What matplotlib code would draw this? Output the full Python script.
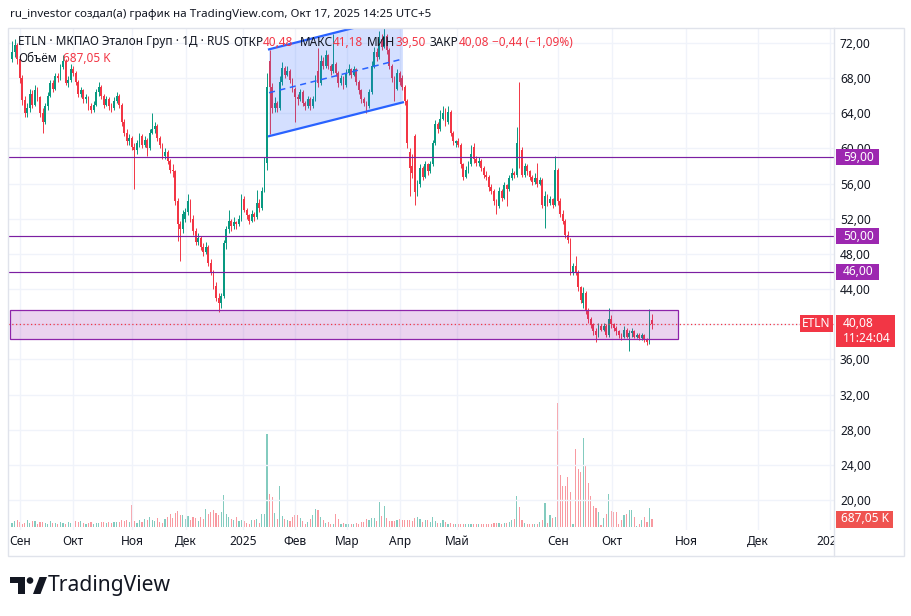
import numpy as np
import matplotlib.pyplot as plt
from matplotlib.patches import Rectangle, Polygon, Circle

plt.rcParams['font.family'] = ['Noto Sans', 'DejaVu Sans']

# ETLN daily candles, Sep 2024 .. Oct 17 2025
opens = [
    70.2, 71.0, 71.8, 70.2, 68.0, 65.5, 64.0, 64.6, 66.2, 65.0, 66.6, 65.8,
    64.0, 63.0, 64.8, 66.0, 67.4, 66.8, 68.2, 68.0, 69.3, 70.0, 67.5, 67.8,
    69.0, 68.6, 67.6, 66.2, 66.6, 65.6, 65.8, 64.8, 64.4, 65.0, 66.4, 67.0,
    66.0, 65.0, 65.6, 64.8, 64.6, 65.4, 66.0, 65.0, 63.0, 61.8, 60.8, 61.2,
    60.2, 59.8, 60.6, 61.4, 60.4, 61.0, 60.0, 61.8, 62.2, 62.6, 61.2, 60.4,
    59.2, 59.6, 58.6, 57.6, 57.4, 54.0, 51.4, 50.8, 52.0, 52.8, 54.0, 52.0,
    50.6, 49.4, 49.8, 48.8, 48.2, 48.8, 47.0, 46.0, 44.4, 43.0, 42.4, 43.2,
    49.2, 50.8, 51.8, 51.2, 51.6, 51.4, 52.0, 54.2, 53.0, 52.4, 51.8, 52.6,
    52.2, 53.8, 53.2, 55.2, 58.4, 70.0, 67.0, 64.6, 65.2, 64.6, 67.6, 69.2,
    68.4, 68.8, 67.8, 66.8, 65.8, 65.6, 66.4, 65.2, 64.8, 65.6, 64.8, 65.6,
    68.8, 67.4, 70.0, 69.4, 70.6, 69.4, 68.8, 69.6, 68.6, 67.4, 68.0, 67.2,
    68.6, 69.0, 68.4, 69.0, 67.6, 66.6, 65.6, 65.2, 64.8, 66.4, 69.4, 71.0,
    70.4, 72.4, 71.6, 72.8, 71.2, 69.4, 68.0, 66.8, 68.6, 68.0, 67.0, 65.4,
    59.6, 58.0, 61.4, 55.0, 56.0, 57.8, 56.8, 58.2, 57.4, 58.2, 60.6, 62.8,
    62.2, 63.4, 64.0, 63.0, 64.2, 61.8, 60.6, 60.8, 60.4, 58.2, 56.8, 57.6,
    58.2, 60.2, 58.8, 58.4, 58.6, 57.8, 57.0, 56.8, 55.6, 55.2, 54.0, 53.4,
    55.2, 54.4, 55.8, 55.4, 56.6, 57.2, 57.0, 61.2, 59.8, 57.0, 58.0, 57.4,
    56.8, 56.2, 56.6, 56.0, 56.4, 53.4, 54.6, 53.8, 54.2, 53.6, 57.6, 54.0,
    52.6, 51.8, 50.2, 49.6, 45.8, 46.6, 46.0, 44.2, 42.4, 43.6, 41.6, 40.6,
    40.0, 39.2, 38.8, 39.8, 39.4, 39.8, 38.8, 40.6, 40.0, 39.6, 39.2, 38.8,
    38.6, 39.4, 38.6, 39.0, 39.2, 38.6, 38.8, 38.4, 38.8, 38.2, 38.0, 40.48,
]
highs = [
    72.2, 72.4, 72.0, 70.6, 68.4, 66.0, 65.2, 66.8, 66.6, 67.2, 67.0, 66.0,
    64.6, 65.2, 66.4, 67.8, 67.8, 68.6, 68.6, 69.6, 70.6, 70.2, 68.2, 69.6,
    69.4, 68.8, 67.8, 67.0, 66.8, 66.2, 66.0, 65.2, 65.4, 66.8, 67.6, 67.2,
    66.2, 66.0, 65.8, 65.2, 65.8, 66.4, 66.2, 65.2, 63.4, 62.2, 61.6, 61.4,
    60.6, 61.0, 61.8, 61.6, 61.4, 61.2, 62.2, 64.0, 63.0, 62.8, 61.4, 60.6,
    60.0, 59.8, 58.8, 58.2, 57.6, 54.4, 51.8, 53.0, 53.2, 54.8, 54.2, 52.4,
    51.0, 50.4, 50.0, 49.2, 49.4, 49.0, 47.4, 46.2, 44.8, 43.6, 43.6, 49.6,
    51.2, 53.0, 52.0, 52.2, 51.8, 52.4, 54.8, 54.6, 53.2, 52.6, 53.0, 52.8,
    55.3, 54.2, 55.6, 59.0, 68.6, 71.2, 67.4, 65.8, 65.4, 68.2, 69.8, 69.4,
    69.4, 69.0, 68.0, 67.0, 66.2, 66.8, 66.6, 65.4, 66.0, 65.8, 66.0, 68.4,
    71.4, 70.6, 70.4, 71.2, 70.8, 69.6, 73.0, 69.8, 68.8, 68.4, 68.2, 69.0,
    69.6, 69.2, 69.4, 69.2, 67.8, 66.8, 65.8, 65.4, 66.8, 70.0, 71.6, 71.4,
    73.4, 73.0, 74.0, 73.0, 71.4, 69.6, 68.2, 69.0, 68.8, 68.4, 67.2, 65.6,
    60.0, 59.4, 61.6, 56.4, 58.2, 58.0, 58.6, 58.4, 58.6, 61.0, 63.2, 63.0,
    64.4, 64.8, 64.6, 64.8, 64.4, 62.0, 61.0, 61.2, 60.6, 58.4, 58.0, 58.6,
    60.4, 60.6, 59.2, 59.0, 58.8, 58.0, 57.4, 57.0, 56.0, 55.4, 54.2, 55.6,
    55.4, 56.2, 56.0, 57.0, 57.8, 57.4, 62.4, 67.6, 60.2, 58.4, 58.2, 57.6,
    57.0, 57.2, 58.4, 56.8, 56.6, 55.2, 54.8, 54.6, 54.4, 59.2, 57.8, 54.4,
    53.0, 52.0, 50.6, 49.8, 47.0, 47.8, 46.2, 44.4, 44.2, 43.8, 41.8, 40.8,
    40.2, 39.6, 40.2, 40.0, 40.2, 40.0, 41.8, 41.0, 40.2, 39.8, 39.4, 39.0,
    39.8, 39.6, 39.4, 39.6, 39.4, 39.0, 39.0, 39.0, 38.9, 38.4, 41.7, 41.18,
]
lows = [
    69.8, 70.4, 69.6, 67.4, 65.0, 63.6, 63.6, 64.2, 64.6, 64.8, 65.4, 63.6,
    61.8, 62.8, 64.4, 65.8, 66.4, 66.6, 67.6, 67.8, 69.0, 67.2, 67.0, 67.6,
    68.2, 67.2, 65.8, 65.8, 65.2, 65.2, 64.4, 64.0, 64.2, 64.8, 66.0, 65.6,
    64.6, 64.8, 64.4, 64.2, 64.4, 65.2, 64.6, 62.6, 61.4, 60.4, 60.4, 59.8,
    55.4, 59.4, 60.2, 60.0, 60.2, 59.2, 59.8, 61.6, 61.8, 60.8, 60.0, 58.8,
    58.8, 58.2, 57.2, 56.8, 53.6, 49.5, 47.2, 50.4, 51.6, 52.4, 51.6, 50.2,
    49.0, 49.0, 48.4, 47.8, 48.0, 46.6, 45.6, 44.0, 42.6, 41.4, 41.8, 43.0,
    48.6, 50.4, 50.6, 50.8, 50.8, 51.2, 51.8, 52.8, 52.0, 51.4, 51.6, 51.8,
    52.0, 52.8, 53.0, 55.0, 57.6, 61.6, 64.0, 64.2, 64.2, 64.4, 67.2, 68.0,
    68.2, 67.4, 66.4, 63.0, 65.0, 65.4, 64.8, 64.4, 64.6, 64.4, 64.6, 65.4,
    67.0, 67.2, 69.0, 69.2, 69.0, 68.4, 68.6, 68.2, 67.0, 67.2, 66.8, 67.0,
    68.4, 68.0, 68.2, 67.2, 66.2, 65.2, 64.8, 64.0, 64.6, 66.2, 69.2, 70.0,
    70.2, 71.2, 71.4, 70.8, 69.0, 67.6, 65.4, 66.6, 67.2, 66.6, 65.0, 60.0,
    54.6, 56.6, 53.6, 54.6, 55.6, 56.4, 56.6, 57.0, 57.2, 58.0, 60.4, 61.8,
    62.0, 63.2, 62.6, 62.8, 61.4, 60.4, 60.2, 60.2, 57.8, 56.4, 56.6, 57.2,
    58.0, 58.4, 58.0, 58.0, 57.4, 56.6, 56.4, 55.2, 54.8, 53.6, 52.6, 53.2,
    54.0, 54.2, 53.4, 55.2, 56.4, 56.6, 56.8, 57.8, 56.8, 56.8, 57.0, 56.4,
    55.8, 56.0, 55.6, 55.8, 53.2, 51.0, 53.4, 53.6, 53.2, 53.4, 53.6, 52.2,
    51.4, 49.8, 49.2, 45.6, 45.6, 45.6, 43.8, 42.4, 41.8, 41.2, 40.2, 39.6,
    38.8, 38.0, 38.6, 39.2, 39.2, 38.6, 38.6, 39.6, 39.2, 38.8, 38.4, 38.2,
    38.4, 38.4, 37.0, 38.6, 38.4, 38.4, 38.2, 38.2, 38.0, 37.6, 37.8, 39.50,
]
closes = [
    71.0, 71.8, 70.2, 68.0, 65.5, 64.0, 64.6, 66.2, 65.0, 66.6, 65.8, 64.0,
    63.0, 64.8, 66.0, 67.4, 66.8, 68.2, 68.0, 69.3, 70.0, 67.5, 67.8, 69.0,
    68.6, 67.6, 66.2, 66.6, 65.6, 65.8, 64.8, 64.4, 65.0, 66.4, 67.0, 66.0,
    65.0, 65.6, 64.8, 64.6, 65.4, 66.0, 65.0, 63.0, 61.8, 60.8, 61.2, 60.2,
    59.8, 60.6, 61.4, 60.4, 61.0, 60.0, 61.8, 62.2, 62.6, 61.2, 60.4, 59.2,
    59.6, 58.6, 57.6, 57.4, 54.0, 51.4, 50.8, 52.6, 52.8, 54.0, 52.0, 50.6,
    49.4, 49.8, 48.8, 48.2, 48.8, 47.0, 46.0, 44.4, 43.0, 42.4, 43.2, 49.2,
    50.8, 51.8, 51.2, 51.6, 51.4, 52.0, 54.2, 53.0, 52.4, 51.8, 52.6, 52.2,
    53.8, 53.2, 55.2, 58.4, 67.0, 67.0, 64.6, 65.2, 64.6, 67.6, 69.2, 68.4,
    68.8, 67.8, 66.8, 65.8, 65.6, 66.4, 65.2, 64.8, 65.6, 64.8, 65.6, 67.8,
    67.4, 70.0, 69.4, 70.6, 69.4, 68.8, 69.6, 68.6, 67.4, 68.0, 67.2, 68.6,
    69.0, 68.4, 69.0, 67.6, 66.6, 65.6, 65.2, 64.8, 66.4, 69.4, 71.0, 70.4,
    72.4, 71.6, 72.8, 71.2, 69.4, 68.0, 66.8, 68.6, 67.6, 67.0, 65.4, 60.6,
    57.8, 57.2, 55.0, 56.0, 57.8, 56.8, 58.2, 57.4, 58.2, 60.6, 62.8, 62.2,
    63.4, 64.0, 63.0, 64.2, 61.8, 60.8, 60.8, 60.4, 58.2, 56.8, 57.6, 58.2,
    59.4, 58.8, 58.4, 58.6, 57.8, 57.0, 56.8, 55.6, 55.2, 54.0, 53.4, 55.2,
    54.4, 55.8, 55.4, 56.6, 57.2, 57.0, 60.6, 58.4, 57.0, 58.0, 57.4, 56.8,
    56.2, 56.6, 56.0, 56.4, 53.6, 54.6, 53.8, 54.2, 53.6, 57.6, 54.0, 52.6,
    51.8, 50.2, 49.6, 46.0, 46.6, 46.0, 44.2, 42.8, 43.6, 41.6, 40.6, 40.0,
    39.2, 38.8, 39.8, 39.4, 39.8, 38.8, 40.6, 40.0, 39.6, 39.2, 38.8, 38.6,
    39.4, 38.6, 39.0, 39.2, 38.6, 38.8, 38.4, 38.8, 38.2, 38.0, 40.5, 40.08,
]
# volume, thousands of shares
volumes = [
    350, 520, 600, 430, 300, 380, 560, 320, 480, 540, 300, 420,
    470, 380, 280, 520, 330, 350, 300, 460, 380, 280, 420, 360,
    330, 540, 450, 520, 380, 300, 350, 420, 300, 330, 380, 460,
    400, 350, 420, 380, 450, 390, 470, 560, 520, 600, 420, 1900,
    520, 380, 600, 440, 700, 560, 820, 640, 500, 760, 420, 380,
    700, 900, 1100, 800, 1200, 1400, 1050, 1000, 700, 980, 620, 880,
    760, 540, 900, 650, 1550, 1100, 1300, 1450, 1200, 1000, 1300, 2750,
    1150, 820, 720, 560, 880, 520, 640, 480, 380, 300, 560, 620,
    700, 380, 1150, 1100, 8000, 2850, 2600, 1200, 700, 3500, 950, 700,
    580, 520, 900, 1050, 1050, 800, 520, 300, 420, 650, 1000, 1550,
    1500, 900, 600, 350, 400, 300, 260, 1100, 700, 300, 380, 260,
    300, 280, 260, 330, 280, 400, 450, 650, 560, 750, 800, 500,
    2150, 950, 1800, 800, 550, 520, 480, 640, 700, 560, 600, 580,
    600, 500, 760, 880, 650, 420, 560, 600, 400, 860, 500, 380,
    330, 620, 420, 300, 380, 280, 260, 240, 250, 240, 230, 260,
    250, 220, 240, 230, 260, 250, 300, 280, 240, 320, 310, 380,
    300, 320, 340, 430, 600, 700, 2650, 1700, 600, 350, 250, 220,
    230, 260, 300, 400, 600, 2050, 380, 1030, 800, 860, 10650, 4450,
    3550, 3550, 4300, 3000, 260, 6700, 5000, 4700, 7650, 5250, 3800, 2650,
    1800, 1650, 1300, 170, 800, 1100, 2850, 1400, 1300, 1300, 260, 600,
    1050, 1100, 1450, 1450, 860, 100, 300, 600, 860, 430, 1650, 687.05,
]

month_labels = ['Сен', 'Окт', 'Ноя', 'Дек', '2025', 'Фев', 'Мар', 'Апр', 'Май',
                'Сен', 'Окт', 'Ноя', 'Дек', '2026']
month_bars = [3.1, 23.9, 47.1, 68.2, 90.6, 111.0, 131.4, 152.2, 174.5,
              214.1, 235.3, 264.3, 292.5, 320.8]
price_ticks = np.arange(20, 73, 4)

levels = [59.0, 50.0, 46.0]
zone_price = (38.32, 41.62)
zone_bars = (-0.8, 261.2)
chan_bars = (100.8, 153.3)
chan_lower = (61.40, 65.25)
chan_upper = (71.28, 75.13)
last_price = 40.08

UP, DOWN = '#089981', '#F23645'
PURPLE = '#9C27B0'
BLUE = '#2962FF'
TXT = '#131722'

W, H = 912, 616
L, R, T, B = 8, 834, 28, 530
fig = plt.figure(figsize=(W / 100, H / 100), dpi=100)
fig.patch.set_facecolor('white')

ax_v = fig.add_axes([L / W, 1 - B / H, (R - L) / W, (B - T) / H], zorder=1)
ax = fig.add_axes([L / W, 1 - B / H, (R - L) / W, (B - T) / H], zorder=2)
ax.patch.set_visible(False)

xlim = ((L - 12) / 2.55, (R - 12) / 2.55)
ax.set_xlim(*xlim)
ax_v.set_xlim(*xlim)
ax.set_ylim(72 - (B - 43) / 8.79, 72 + (43 - T) / 8.79)
ax_v.set_ylim(-3 * 86, (B - T - 3) * 86)
ax_v.axis('off')

o, h, l, c = map(np.array, (opens, highs, lows, closes))
idx = np.arange(len(o))
col = np.where(c >= o, UP, DOWN)

# volume
ax_v.bar(idx, volumes, width=0.45, color=col, alpha=0.5, lw=0)

# candles
ax.vlines(idx, l, h, colors=col, lw=0.7, zorder=3)
body = np.where(np.abs(c - o) < 0.08, 0.08, c - o)
ax.bar(idx, body, bottom=o, width=0.74, color=col, lw=0, zorder=4)

# grid and scales (the 40,00 label sits under the last-price badge)
ax.set_yticks(price_ticks)
ax.set_yticklabels(['' if v == 40 else f'{v:.2f}'.replace('.', ',') for v in price_ticks])
ax.yaxis.tick_right()
ax.set_xticks(month_bars)
ax.set_xticklabels(month_labels)
ax.tick_params(axis='y', length=0, pad=4.3, labelsize=8.6, labelcolor=TXT)
ax.tick_params(axis='x', length=0, pad=3.6, labelsize=8.6, labelcolor=TXT)
for lab in ax.get_xticklabels():
    if lab.get_text() in ('2025', '2026'):
        lab.set_fontweight('bold')
ax.grid(True, color='#f0f3fa', lw=1)
ax.set_axisbelow(True)
for s in ax.spines.values():
    s.set_visible(False)

# drawings
for lv in levels:
    ax.axhline(lv, color='#7B1FA2', lw=0.85, zorder=6)
ax.add_patch(Rectangle((zone_bars[0], zone_price[0]), zone_bars[1] - zone_bars[0],
                       zone_price[1] - zone_price[0], fc=PURPLE, alpha=0.2, lw=0, zorder=5))
ax.add_patch(Rectangle((zone_bars[0], zone_price[0]), zone_bars[1] - zone_bars[0],
                       zone_price[1] - zone_price[0], fc='none', ec='#8E24AA', lw=0.9, zorder=6))
chan_poly = [(chan_bars[0], chan_lower[0]), (chan_bars[1], chan_lower[1]),
             (chan_bars[1], chan_upper[1]), (chan_bars[0], chan_upper[0])]
ax.add_patch(Polygon(chan_poly, closed=True, fc=BLUE, alpha=0.2, lw=0, zorder=5))
ax.plot(chan_bars, chan_lower, color=BLUE, lw=1.6, zorder=6)
ax.plot(chan_bars, chan_upper, color=BLUE, lw=1.6, zorder=6)
ax.plot(chan_bars, [(a + b) / 2 for a, b in zip(chan_lower, chan_upper)],
        color=BLUE, lw=1.1, ls=(0, (4, 3)), zorder=6)
ax.axhline(last_price, color=DOWN, lw=0.9, ls=(0, (1, 2)), zorder=6)

# overlay in pixel coordinates for legend, labels and logo
ov = fig.add_axes([0, 0, 1, 1], zorder=10)
ov.set_xlim(0, W)
ov.set_ylim(H, 0)
ov.axis('off')
ov.patch.set_visible(False)

ov.add_patch(Rectangle((835, B + 1), 69, 25, fc='white', lw=0))
ov.add_patch(Rectangle((L, T), 904 - L, 556 - T, fc='none', ec='#e0e3eb', lw=1))
ov.plot([R, R], [T, 556], color='#e0e3eb', lw=1)

ov.text(10, 14, 'ru_investor создал(а) график на TradingView.com, Окт 17, 2025 14:25 UTC+5',
        fontsize=8.35, color=TXT, va='center')

renderer = fig.canvas.get_renderer()
fs = 8.5


def chain(x, y, parts, gap=0.0):
    # place text pieces one after another, starting at pixel x
    for s, colr in parts:
        t = ov.text(x, y, s, fontsize=fs, color=colr, va='center')
        x = t.get_window_extent(renderer).x1 + gap


ov.text(18, 42, 'ETLN · МКПАО Эталон Груп · 1Д · RUS', fontsize=fs, color=TXT, va='center')
chain(233, 42, [('ОТКР', TXT), ('40,48', DOWN)])
chain(300, 42, [('МАКС', TXT), ('41,18', DOWN)])
chain(367, 42, [('МИН', TXT), ('39,50', DOWN)])
chain(430, 42, [('ЗАКР', TXT), ('40,08', DOWN)])
ov.text(492, 42, '−0,44 (−1,09%)', fontsize=fs, color=DOWN, va='center')
ov.text(18, 59, 'Объём', fontsize=fs, color=TXT, va='center')
ov.text(63, 59, '687,05 K', fontsize=fs, color=DOWN, va='center')


def badge(x0, yc, w, hgt, color, lines, tx=None):
    ov.add_patch(Rectangle((x0, yc - hgt / 2), w, hgt, fc=color, lw=0))
    n = len(lines)
    for k, s in enumerate(lines):
        yy = yc + (k - (n - 1) / 2) * 15
        if tx is None:
            ov.text(x0 + w / 2, yy, s, fontsize=8.6, color='white', ha='center',
                    va='center', fontweight='bold')
        else:
            ov.text(tx, yy, s, fontsize=8.6, color='white', ha='left',
                    va='center', fontweight='bold')


def py(p):
    return 43 + (72 - p) * 8.79


for lv in levels:
    badge(836, py(lv), 43, 16, PURPLE, [f'{lv:.2f}'.replace('.', ',')], tx=843)
badge(836, py(last_price) + 7, 59, 32, DOWN, ['40,08', '11:24:04'], tx=843)
badge(800, py(last_price), 33, 17, DOWN, ['ETLN'])
badge(836, 519, 57, 17, '#EF5350', ['687,05 K'], tx=841)

# TradingView logo
ov.add_patch(Polygon([(10, 577), (25, 577), (25, 594), (18, 594), (18, 583), (10, 583)],
                     closed=True, fc=TXT, lw=0))
ov.add_patch(Circle((30, 580.5), 3.3, fc=TXT, lw=0))
ov.add_patch(Polygon([(33, 594), (39.5, 577), (47, 577), (40.5, 594)], closed=True, fc=TXT, lw=0))
ov.text(48, 586, 'TradingView', fontsize=15.2, fontweight='bold', color=TXT, va='center')

fig.savefig('out.png', dpi=100, facecolor='white')
